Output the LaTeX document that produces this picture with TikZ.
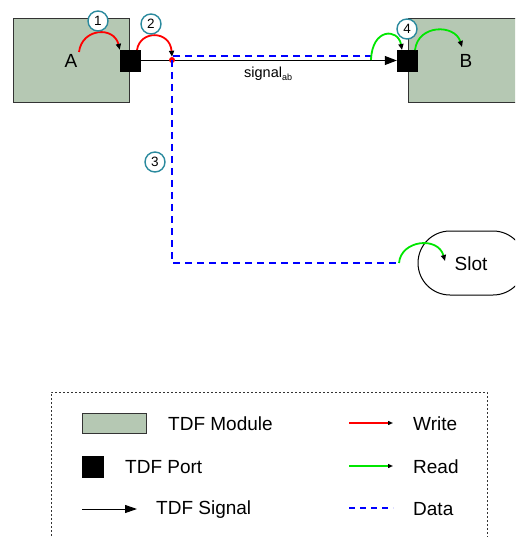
\documentclass[tikz,border=0pt]{standalone}
\usepackage{fontspec}
\setmainfont{Liberation Sans}
\usetikzlibrary{arrows.meta}
\definecolor{modfill}{HTML}{B5C8B3}
\definecolor{modline}{HTML}{333333}
\definecolor{numcol}{HTML}{2B8A9E}
\definecolor{rw}{HTML}{FF0000}
\definecolor{rd}{HTML}{00E600}
\definecolor{dt}{HTML}{0000FF}
\tikzset{
  module/.style={draw=modline, fill=modfill, line width=0.9pt, inner sep=0pt},
  port/.style={fill=black, draw=black, inner sep=0pt, minimum width=20pt, minimum height=21pt},
  num/.style={circle, draw=numcol, line width=1.4pt, fill=white, inner sep=0pt, minimum size=20pt, font=\fontsize{13.5}{13.5}\selectfont},
  lbl/.style={font=\fontsize{19}{22}\selectfont, inner sep=0pt},
  writearc/.style={draw=rw, line width=1.8pt, -{Triangle[black,length=6pt,width=5pt]}},
  readarc/.style={draw=rd, line width=1.8pt, -{Triangle[black,length=6pt,width=5pt]}},
  dataline/.style={draw=dt, line width=1.8pt, dash pattern=on 7pt off 5pt},
  sigline/.style={draw=black, line width=1pt, -{Triangle[length=12pt,width=9pt]}},
  legbox/.style={draw=black!80, line width=0.9pt, dash pattern=on 2pt off 2pt},
}
\begin{document}
\begin{tikzpicture}[x=1pt,y=-1pt]
\useasboundingbox (0,0) rectangle (515,537);
\clip (0,0) rectangle (515,537);
% modules
\node[module, minimum width=116pt, minimum height=84pt] (A) at (71,60) {};
\node[lbl, anchor=base] (Alab) at (71,68) {A};
\node[module, minimum width=130pt, minimum height=84pt] (B) at (473,60) {};
\node[lbl, anchor=base] (Blab) at (466,68) {B};
% ports
\node[port] (pA) at (130,60.5) {};
\node[port] (pB) at (407,60.5) {};
% signal
\draw[sigline] (pA.east) -- (pB.west);
\node[font=\fontsize{14.5}{16}\selectfont, anchor=base west, inner sep=0pt] (sig) at (244,78) {signal\textsubscript{\fontsize{9}{9}\selectfont ab}};
% red dot
\node[circle, fill=rw, inner sep=0pt, minimum size=6pt] (dot) at (172,60) {};
% slot
\draw[line width=1pt, rounded corners=32pt] (418,231) rectangle (525,295);
\node[lbl, anchor=base] (slot) at (471,270) {Slot};
% data path
\coordinate (d0) at (172,56);
\coordinate (d1) at (372,56);
\coordinate (d2) at (172,263);
\coordinate (d3) at (399,263);
\draw[dataline] (d1) -- (d0) -- (d2) -- (d3);
% write arcs
\coordinate (w1s) at (79,52);
\draw[writearc] (w1s) .. controls (82,28) and (114,26) .. (pA.north west);
\coordinate (w2s) at (137,50);
\draw[writearc] (w2s) .. controls (140,30) and (170,30) .. (dot.north);
% read arcs
\coordinate (r1s) at (371,60);
\coordinate (r1e) at (402,50);
\draw[readarc] (r1s) .. controls (372,28) and (398,28) .. (r1e);
\coordinate (r2s) at (415,50);
\coordinate (r2e) at (462,47);
\draw[readarc] (r2s) .. controls (418,24) and (455,24) .. (r2e);
\coordinate (r3e) at (445,261);
\draw[readarc] (d3) .. controls (401,240) and (438,236) .. (r3e);
% numbers
\node[num] (n1) at (98,21) {1};
\node[num] (n2) at (151,24) {2};
\node[num] (n3) at (155,162) {3};
\node[num] (n4) at (407,29) {4};
% legend
\draw[legbox] (51,560) -- (51,392) -- (487,392) -- (487,560);
\node[module, anchor=north west, minimum width=64pt, minimum height=20pt] (lm) at (82,413) {};
\node[lbl, anchor=base west] (lmt) at (168,430) {TDF Module};
\node[port, anchor=north west, minimum width=21pt, minimum height=21pt] (lp) at (82,456) {};
\node[lbl, anchor=base west] (lpt) at (125,473) {TDF Port};
\coordinate (ls0) at (82,509);
\coordinate (ls1) at (137,509);
\draw[draw=black, line width=1pt, -{Triangle[length=12pt,width=8pt]}] (ls0) -- (ls1);
\node[lbl, anchor=base west] (lst) at (156,514) {TDF Signal};
\coordinate (lw0) at (349,423);
\coordinate (lw1) at (393,423);
\draw[draw=rw, line width=1.6pt, -{Triangle[black,length=5pt,width=4pt]}] (lw0) -- (lw1);
\node[lbl, anchor=base west] (lwt) at (413,430) {Write};
\coordinate (lr0) at (349,466);
\coordinate (lr1) at (393,466);
\draw[draw=rd, line width=1.6pt, -{Triangle[black,length=5pt,width=4pt]}] (lr0) -- (lr1);
\node[lbl, anchor=base west] (lrt) at (413,473) {Read};
\coordinate (ld0) at (349,508);
\coordinate (ld1) at (393,508);
\draw[dataline, line width=1.6pt, dash pattern=on 6pt off 5pt] (ld0) -- (ld1);
\node[lbl, anchor=base west] (ldt) at (413,515) {Data};
\end{tikzpicture}
\end{document}
